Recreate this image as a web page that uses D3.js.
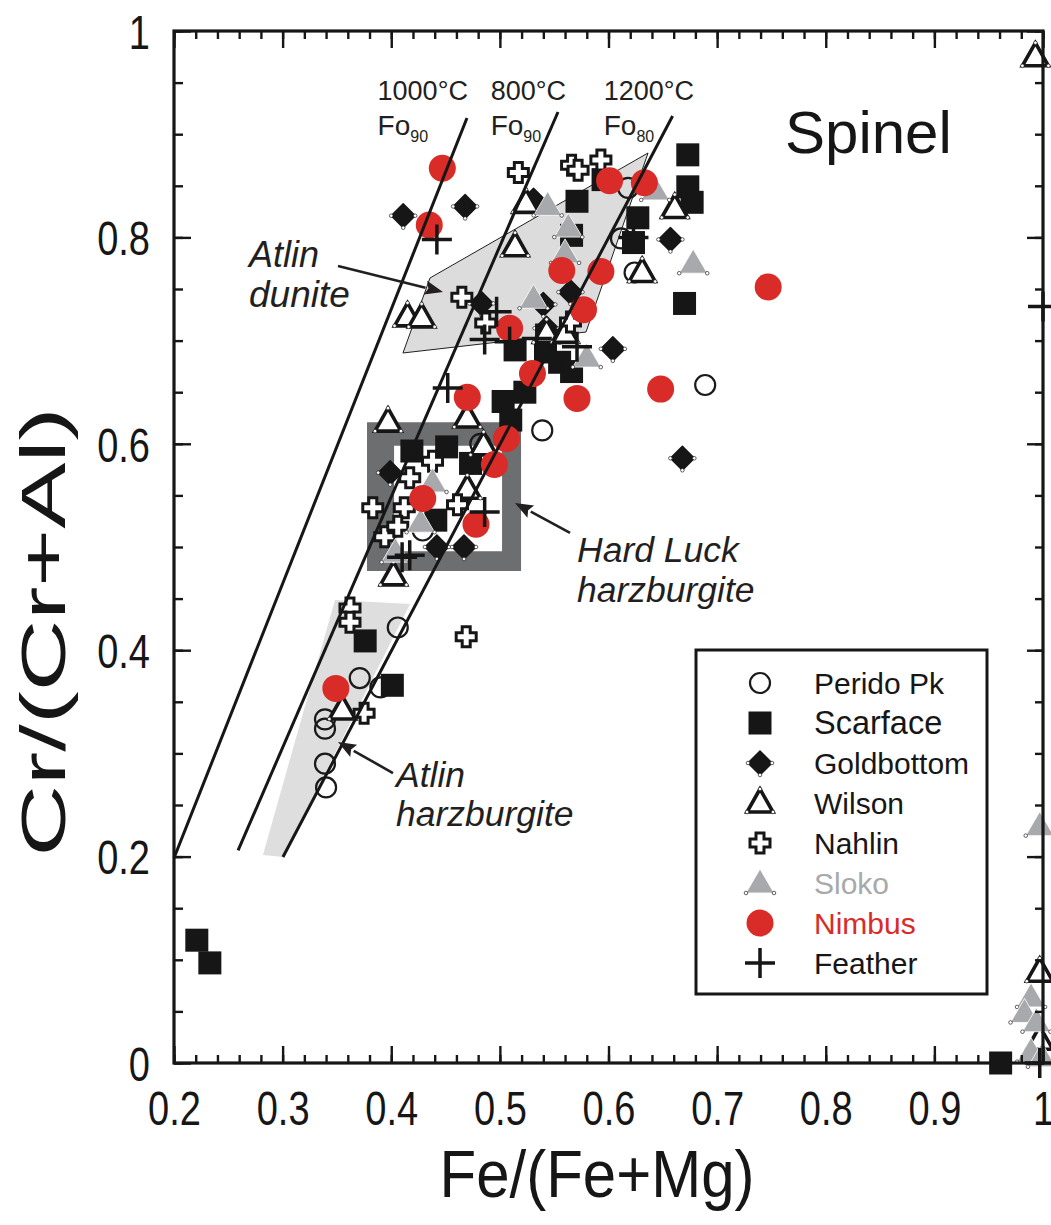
<!DOCTYPE html>
<html><head><meta charset="utf-8">
<script src="https://cdn.jsdelivr.net/npm/d3@7"></script>
<style>
html,body{margin:0;padding:0;background:#fff;}
svg{display:block;font-family:"Liberation Sans",Arial,sans-serif;}
</style></head>
<body>
<svg id="chart" width="1051" height="1225"></svg>
<script>
// ---------- DATA ----------
const xTickLabels = ["0.2","0.3","0.4","0.5","0.6","0.7","0.8","0.9","1"];
const yTickLabels = ["0","0.2","0.4","0.6","0.8","1"];

const peridoPk = [[0.618,0.848],[0.6115,0.799],[0.624,0.766],[0.689,0.657],[0.539,0.613],[0.482,0.600],[0.429,0.516],[0.406,0.422],[0.371,0.373],[0.390,0.364],[0.339,0.333],[0.339,0.324],[0.339,0.290],[0.340,0.267]];
const scarface = [[0.673,0.880],[0.673,0.849],[0.677,0.834],[0.627,0.819],[0.623,0.795],[0.670,0.736],[0.571,0.835],[0.566,0.802],[0.595,0.856],[0.514,0.691],[0.542,0.689],[0.555,0.679],[0.566,0.670],[0.523,0.650],[0.503,0.641],[0.510,0.623],[0.419,0.593],[0.451,0.597],[0.473,0.581],[0.441,0.526],[0.376,0.409],[0.401,0.366],[0.221,0.119],[0.233,0.097],[0.961,0.0]];
const goldbottom = [[0.411,0.821],[0.468,0.830],[0.531,0.836],[0.657,0.798],[0.565,0.747],[0.483,0.736],[0.540,0.735],[0.543,0.712],[0.604,0.692],[0.668,0.586],[0.399,0.572],[0.442,0.500],[0.467,0.500]];
const wilson = [[0.993,0.975],[0.415,0.723],[0.428,0.722],[0.514,0.791],[0.524,0.833],[0.661,0.828],[0.631,0.766],[0.543,0.707],[0.560,0.707],[0.397,0.621],[0.470,0.625],[0.485,0.598],[0.470,0.556],[0.402,0.472],[0.355,0.342],[0.997,0.088],[0.997,0.022]];
const nahlin = [[0.517,0.863],[0.566,0.870],[0.572,0.865],[0.593,0.875],[0.465,0.742],[0.487,0.717],[0.565,0.718],[0.438,0.583],[0.417,0.567],[0.461,0.541],[0.412,0.538],[0.383,0.538],[0.394,0.510],[0.406,0.520],[0.362,0.441],[0.362,0.427],[0.375,0.339],[0.469,0.413]];
const sloko = [[0.544,0.831],[0.563,0.810],[0.560,0.785],[0.531,0.741],[0.678,0.775],[0.643,0.846],[0.580,0.684],[0.438,0.563],[0.427,0.524],[0.404,0.495],[0.997,0.230],[0.989,0.064],[0.983,0.049],[0.994,0.040],[0.989,0.011],[0.999,0.006]];
const nimbus = [[0.447,0.867],[0.435,0.812],[0.601,0.855],[0.633,0.853],[0.557,0.768],[0.593,0.767],[0.577,0.730],[0.509,0.712],[0.530,0.668],[0.470,0.645],[0.571,0.644],[0.648,0.653],[0.747,0.752],[0.506,0.605],[0.495,0.580],[0.429,0.547],[0.478,0.522],[0.349,0.363]];
const feather = [[0.442,0.798],[0.497,0.728],[0.486,0.701],[0.509,0.699],[0.534,0.702],[0.571,0.694],[0.452,0.654],[0.486,0.534],[0.410,0.490],[0.417,0.492],[1.0,0.733],[0.997,0.0],[0.623,0.800]];

const isotherms = [
  {name:"1000", pts:[[0.2,0.1986],[0.4697,0.9157]]},
  {name:"800",  pts:[[0.259,0.206],[0.5535,0.9215]]},
  {name:"1200", pts:[[0.3003,0.1996],[0.659,0.9176]]}
];
const isoLabels = [["1000°C","90",0.3874],["800°C","90",0.4915],["1200°C","80",0.5956]];

const atlinDunite = [[0.4108,0.688],[0.4357,0.7607],[0.6364,0.8818],[0.5793,0.7083]];
const atlinHarz = [[0.2819,0.2016],[0.3482,0.4486],[0.4173,0.4448],[0.3003,0.1996]];
const hardLuckOuter = [0.3777,0.5195,0.4767,0.621];
const hardLuckInner = [0.4026,0.5020,0.496,0.598];

const arrows = [
  [[0.351,0.7723],[0.4476,0.7471]],
  [[0.5646,0.5136],[0.5139,0.5426]],
  [[0.4016,0.281],[0.351,0.311]]
];

const seriesNames = ["Perido Pk","Scarface","Goldbottom","Wilson","Nahlin","Sloko","Nimbus","Feather"];

// ---------- SETUP ----------
const svg = d3.select("#chart");
const L=174,R=1043,T=31,B=1063;
const x = d3.scaleLinear([0.2,1],[L,R]);
const y = d3.scaleLinear([0,1],[B,T]);
const RED="#d92b27", GRAY="#a7a9ac";

// regions
svg.append("polygon").attr("points", atlinHarz.map(p=>[x(p[0]),y(p[1])].join(",")).join(" "))
  .attr("fill","#dedede");
svg.append("polygon").attr("points", atlinDunite.map(p=>[x(p[0]),y(p[1])].join(",")).join(" "))
  .attr("fill","#dcdcdc").attr("stroke","#231f20").attr("stroke-width",1);
{
  const o=hardLuckOuter,i=hardLuckInner;
  const d=`M${x(o[0])},${y(o[3])}H${x(o[1])}V${y(o[2])}H${x(o[0])}Z M${x(i[0])},${y(i[3])}H${x(i[1])}V${y(i[2])}H${x(i[0])}Z`;
  svg.append("rect").attr("x",x(i[0])).attr("y",y(i[3])).attr("width",x(i[1])-x(i[0])).attr("height",y(i[2])-y(i[3])).attr("fill","#fff");
  svg.append("path").attr("d",d).attr("fill","#6d6e70").attr("fill-rule","evenodd");
}

// ---------- MARKERS ----------
function dots(g, pts){
  pts.forEach(p=>g.append("circle").attr("cx",p[0]).attr("cy",p[1]).attr("r",1.8).attr("fill","#fff").attr("stroke","#231f20").attr("stroke-width",0.7));
}
const draw = {
  "Perido Pk": g=>g.append("circle").attr("r",10).attr("fill","none").attr("stroke","#1a1a1a").attr("stroke-width",2.2),
  "Scarface": g=>g.append("rect").attr("x",-11.5).attr("y",-11.5).attr("width",23).attr("height",23).attr("fill","#161616"),
  "Goldbottom": g=>{
    g.append("path").attr("d","M0,-12L12,0L0,12L-12,0Z").attr("fill","#161616").attr("stroke","#161616").attr("stroke-width",1.5).attr("stroke-linejoin","round");
    dots(g,[[12,0],[0,12],[-12,0]]);
  },
  "Wilson": g=>{
    g.append("path").attr("d","M0,-14L13,9L-13,9Z").attr("fill","#fff").attr("stroke","#161616").attr("stroke-width",3.6).attr("stroke-linejoin","miter");
    dots(g,[[0,-14],[13,9],[-13,9]]);
  },
  "Nahlin": g=>g.append("path").attr("d","M-4,-10H4V-4H10V4H4V10H-4V4H-10V-4H-4Z").attr("fill","#fff").attr("stroke","#161616").attr("stroke-width",3),
  "Sloko": g=>{
    g.append("path").attr("d","M0,-14L14,10L-14,10Z").attr("fill",GRAY).attr("stroke","#fff").attr("stroke-width",0.8);
    dots(g,[[14,10],[-14,10]]);
  },
  "Nimbus": g=>g.append("circle").attr("r",13.5).attr("fill",RED),
  "Feather": g=>g.append("path").attr("d","M-15,0H15M0,-15V15").attr("stroke","#161616").attr("stroke-width",3.5).attr("fill","none")
};
const seriesData = {"Perido Pk":peridoPk,"Scarface":scarface,"Goldbottom":goldbottom,"Wilson":wilson,"Nahlin":nahlin,"Sloko":sloko,"Nimbus":nimbus,"Feather":feather};

const gm = svg.append("g");
seriesNames.forEach(n=>{
  gm.selectAll(null).data(seriesData[n]).enter().append("g")
    .attr("transform",d=>`translate(${x(d[0])},${y(d[1])})`)
    .each(function(){draw[n](d3.select(this));});
});

// isotherm lines
isotherms.forEach(l=>{
  svg.append("line").attr("x1",x(l.pts[0][0])).attr("y1",y(l.pts[0][1]))
    .attr("x2",x(l.pts[1][0])).attr("y2",y(l.pts[1][1]))
    .attr("stroke","#161616").attr("stroke-width",3);
});
isoLabels.forEach(([t,sub,xv])=>{
  svg.append("text").attr("x",x(xv)).attr("y",100).attr("font-size",27).attr("fill","#231f20").text(t);
  const tx=svg.append("text").attr("x",x(xv)).attr("y",135).attr("font-size",28).attr("fill","#231f20");
  tx.append("tspan").text("Fo");
  tx.append("tspan").attr("font-size",16).attr("dy",7).text(sub);
});

// arrows
arrows.forEach(a=>{
  const x1=x(a[0][0]),y1=y(a[0][1]),x2=x(a[1][0]),y2=y(a[1][1]);
  const ang=Math.atan2(y2-y1,x2-x1), len=18, w=7;
  const bx=x2-len*Math.cos(ang), by=y2-len*Math.sin(ang);
  svg.append("line").attr("x1",x1).attr("y1",y1).attr("x2",bx).attr("y2",by).attr("stroke","#231f20").attr("stroke-width",2.6);
  const px=-Math.sin(ang)*w, py=Math.cos(ang)*w;
  svg.append("path").attr("d",`M${x2},${y2}L${bx+px},${by+py}L${bx+3*Math.cos(ang)},${by+3*Math.sin(ang)}L${bx-px},${by-py}Z`).attr("fill","#231f20");
});

// region labels
const italicLabels=[["Atlin",249,267,36],["dunite",249,307,37],["Hard Luck",577,562,35.5],["harzburgite",577,602,35.5],["Atlin",396,787,35.5],["harzburgite",396,826,35.5]];
italicLabels.forEach(([t,px,py,fs])=>svg.append("text").attr("x",px).attr("y",py).attr("font-size",fs).attr("font-style","italic").attr("fill","#231f20").text(t));

svg.append("text").attr("x",785).attr("y",153).attr("font-size",60).attr("fill","#161616").text("Spinel");

// ---------- AXES ----------
const xMinor = d3.range(0.2,1.0001,0.02), yMinor=d3.range(0,1.0001,0.05);
const xMajor = xTickLabels.map(Number), yMajor = yTickLabels.map(Number);
function axisG(axis, tr){
  const g=svg.append("g").attr("transform",tr).call(axis);
  g.select(".domain").remove();
  g.selectAll("line").attr("stroke","#161616").attr("stroke-width",2.4);
  return g;
}
axisG(d3.axisBottom(x).tickValues(xMinor).tickSize(-8).tickFormat(""),`translate(0,${B})`);
axisG(d3.axisTop(x).tickValues(xMinor).tickSize(-8).tickFormat(""),`translate(0,${T})`);
axisG(d3.axisLeft(y).tickValues(yMinor).tickSize(-9).tickFormat(""),`translate(${L},0)`);
axisG(d3.axisRight(y).tickValues(yMinor).tickSize(-8).tickFormat(""),`translate(${R},0)`);
axisG(d3.axisTop(x).tickValues(xMajor).tickSize(-17).tickFormat(""),`translate(0,${T})`);
axisG(d3.axisRight(y).tickValues(yMajor).tickSize(-16).tickFormat(""),`translate(${R},0)`);
const xb=axisG(d3.axisBottom(x).tickValues(xMajor).tickSize(-17).tickFormat((d,i)=>xTickLabels[i]),`translate(0,${B})`);
const yl=axisG(d3.axisLeft(y).tickValues(yMajor).tickSize(-17).tickFormat((d,i)=>yTickLabels[i]),`translate(${L},0)`);
xb.selectAll("text").attr("y",null).attr("dy",null).attr("font-size",38).attr("font-family","Liberation Sans, Arial, sans-serif")
  .attr("fill","#161616").attr("text-anchor","middle").attr("transform","translate(0,45) scale(1,1.28)").attr("dominant-baseline","central");
yl.selectAll("text").attr("x",null).attr("dy",null).attr("font-size",38).attr("font-family","Liberation Sans, Arial, sans-serif")
  .attr("fill","#161616").attr("text-anchor","end").attr("transform","translate(-24,0) scale(1,1.28)").attr("dominant-baseline","central");

// frame
svg.append("rect").attr("x",L).attr("y",T).attr("width",R-L).attr("height",B-T).attr("fill","none").attr("stroke","#161616").attr("stroke-width",3.2);

// axis titles
svg.append("text").attr("transform","translate(597,1197) scale(1,1.1)").attr("text-anchor","middle")
  .attr("font-size",60).attr("fill","#161616").text("Fe/(Fe+Mg)");
svg.append("text").attr("transform","translate(44,632) rotate(-90) scale(1.6,1)").attr("text-anchor","middle").attr("dominant-baseline","central")
  .attr("font-size",62).attr("fill","#161616").text("Cr/(Cr+Al)");

// ---------- LEGEND ----------
const lg=svg.append("g");
lg.append("rect").attr("x",696).attr("y",650).attr("width",291).attr("height",344).attr("fill","#fff").attr("stroke","#161616").attr("stroke-width",3);
const legY=d3.scalePoint().domain(seriesNames).range([683,963]);
seriesNames.forEach(n=>{
  const g=lg.append("g").attr("transform",`translate(760,${legY(n)})`);
  draw[n](g);
  lg.append("text").attr("x",814).attr("y",legY(n)).attr("dominant-baseline","central")
    .attr("font-size",n==="Scarface"?32.5:30)
    .attr("fill",n==="Sloko"?GRAY:(n==="Nimbus"?RED:"#161616")).text(n);
});
</script>
</body></html>
